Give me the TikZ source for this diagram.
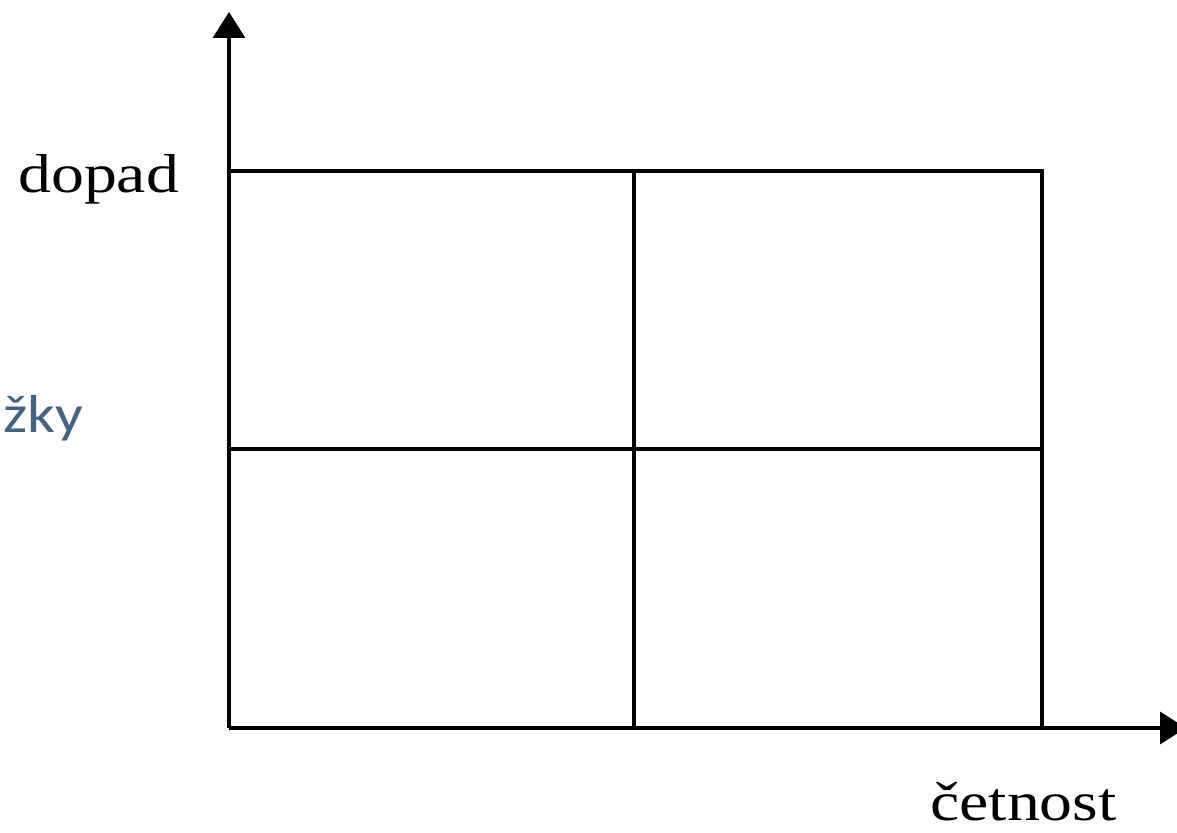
\documentclass[tikz,border=0pt]{standalone}
\usepackage{xcolor}
\usepackage{fontspec}
\usepackage{tikz}
\usetikzlibrary{arrows.meta, positioning, calc}
\setmainfont{Liberation Serif}
\newfontfamily\widefont[FakeStretch=1.2]{Liberation Serif}
\newfontfamily\slatefont[FakeStretch=1.15]{Carlito}
\definecolor{slateblue}{HTML}{46627F}
\tikzset{
	axis/.style={line width=2.5pt, -{Triangle[length=0.65cm, width=0.8cm]}},
	gridline/.style={line width=2.5pt, line cap=rect},
	axislabel/.style={font=\widefont\fontsize{39}{41}\selectfont, inner sep=0pt, anchor=base west}
}

\begin{document}
\begin{tikzpicture}
			\useasboundingbox (0,0) rectangle (29.425,20.825);
			\coordinate (origin) at (5.725,2.625);
			\coordinate (ytip) at (5.725,20.525);
			\coordinate (xtip) at (29.65,2.625);
			
			\draw [axis] (origin) -- (ytip);
			\draw [axis] (origin) -- (xtip);
			
			% mrizka 2x2
			\coordinate (tl) at (5.725,16.55);
			\coordinate (tr) at (26.05,16.55);
			\coordinate (ml) at (5.725,9.6);
			\coordinate (mr) at (26.05,9.6);
			\coordinate (tm) at (15.85,16.55);
			\coordinate (bm) at (15.85,2.625);
			\coordinate (br) at (26.05,2.625);
			\draw [gridline] (tl) -- (tr) -- (br);
			\draw [gridline] (ml) -- (mr);
			\draw [gridline] (tm) -- (bm);
			
			\node [axislabel] (dopad) at (0.45,16.0) {dopad};
			\node [axislabel] (cetnost) at (23.25,0.3) {četnost};
			\node [axislabel, font=\slatefont\fontsize{38}{40}\selectfont, text=slateblue] (zky) at (0.075,10.0) {žky};
\end{tikzpicture}
\end{document}
